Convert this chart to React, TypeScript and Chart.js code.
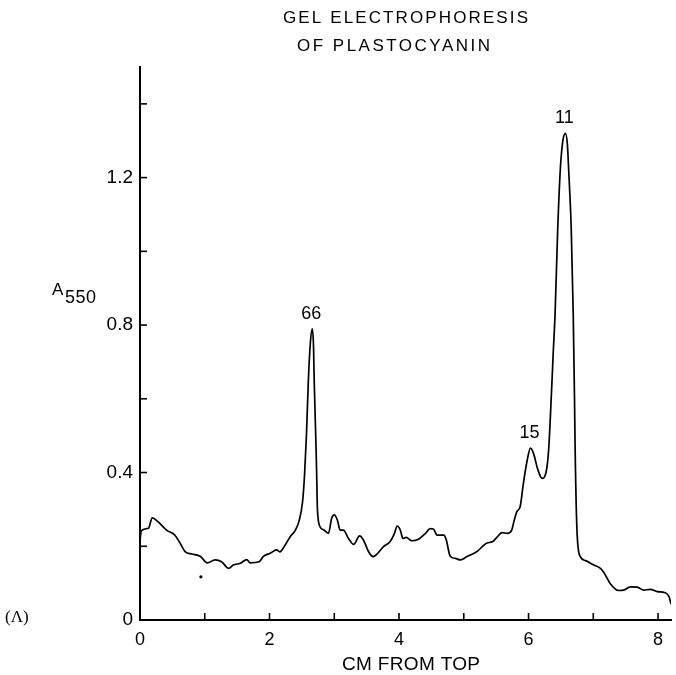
import React, { useEffect, useRef } from "react";
import { Chart, registerables } from "chart.js";

Chart.register(...registerables);

// distance from top of gel (cm)
const positionsCm = [
  0, 0.02, 0.13, 0.19, 0.28, 0.41, 0.54, 0.62, 0.7, 0.8, 0.93, 1.04, 1.16, 1.26, 1.37, 1.44, 1.55,
  1.65, 1.7, 1.84, 1.91, 2.01, 2.11, 2.16, 2.24, 2.32, 2.4, 2.46, 2.51, 2.54, 2.57, 2.6, 2.63, 2.66,
  2.68, 2.69, 2.72, 2.73, 2.74, 2.78, 2.84, 2.91, 2.96, 3.0, 3.05, 3.09, 3.14, 3.22, 3.3, 3.39, 3.45,
  3.53, 3.6, 3.66, 3.76, 3.86, 3.93, 3.97, 4.02, 4.06, 4.11, 4.2, 4.3, 4.41, 4.48, 4.53, 4.59, 4.69,
  4.73, 4.79, 4.87, 4.95, 5.05, 5.2, 5.31, 5.36, 5.44, 5.51, 5.59, 5.67, 5.74, 5.78, 5.82, 5.87, 5.92,
  5.98, 6.03, 6.08, 6.14, 6.21, 6.27, 6.31, 6.35, 6.38, 6.41, 6.45, 6.49, 6.53, 6.57, 6.6, 6.62, 6.66,
  6.69, 6.71, 6.72, 6.75, 6.8, 6.88, 7.01, 7.11, 7.17, 7.26, 7.39, 7.47, 7.57, 7.68, 7.78, 7.88, 7.99,
  8.11, 8.17, 8.2,
];

// absorbance at 550 nm
const absorbance = [
  0.215, 0.242, 0.249, 0.277, 0.266, 0.244, 0.23, 0.208, 0.185, 0.179, 0.173, 0.155, 0.163, 0.158,
  0.14, 0.149, 0.154, 0.164, 0.155, 0.158, 0.173, 0.181, 0.19, 0.185, 0.203, 0.226, 0.244, 0.271,
  0.32, 0.39, 0.5, 0.65, 0.75, 0.79, 0.74, 0.65, 0.46, 0.38, 0.3, 0.253, 0.244, 0.235, 0.276, 0.285,
  0.27, 0.244, 0.244, 0.221, 0.205, 0.228, 0.217, 0.185, 0.172, 0.179, 0.199, 0.212, 0.235, 0.255,
  0.244, 0.221, 0.224, 0.215, 0.219, 0.235, 0.248, 0.247, 0.23, 0.23, 0.217, 0.173, 0.167, 0.163,
  0.172, 0.185, 0.203, 0.209, 0.212, 0.224, 0.237, 0.235, 0.244, 0.271, 0.294, 0.307, 0.37, 0.434,
  0.466, 0.45, 0.41, 0.384, 0.4, 0.46, 0.6, 0.72, 0.831, 1.057, 1.22, 1.3, 1.32, 1.29, 1.22, 1.057,
  0.831, 0.6, 0.46, 0.235, 0.172, 0.161, 0.149, 0.14, 0.127, 0.099, 0.08, 0.081, 0.09, 0.089, 0.081,
  0.083, 0.077, 0.074, 0.063, 0.043,
];

// band labels (molecular weight annotations)
const bandPositions = [2.66, 6.03, 6.57];
const bandPeaks = [0.79, 0.466, 1.32];
const bandLabels = ["66", "15", "11"];

// stray speck on the original figure
const speckX = [0.94];
const speckY = [0.117];

const xLabeledTicks = [0, 2, 4, 6, 8];
const yLabeledTicks = ["0", "0.4", "0.8", "1.2"];

const titleLines = ["GEL ELECTROPHORESIS", "OF PLASTOCYANIN"];
const xTitle = "CM FROM TOP";
const yTitleMain = "A";
const yTitleSub = "550";
const panelLabel = "(\u039B)";

const FONT = '"Liberation Sans", Arial, sans-serif';

function drawSpaced(ctx: CanvasRenderingContext2D, text: string, cx: number, cy: number, font: string, width: number) {
  ctx.save();
  ctx.font = font;
  (ctx as any).letterSpacing = "0px";
  const w = ctx.measureText(text).width;
  const sp = text.length > 1 ? (width - w) / (text.length - 1) : 0;
  (ctx as any).letterSpacing = sp + "px";
  ctx.textAlign = "left";
  ctx.textBaseline = "middle";
  ctx.fillText(text, cx - width / 2, cy);
  ctx.restore();
}

const decorPlugin = {
  id: "decor",
  afterDatasetsDraw(chart: any) {
    const ctx: CanvasRenderingContext2D = chart.ctx;
    const xs = chart.scales.x;
    const ys = chart.scales.y;
    const area = chart.chartArea;
    ctx.save();
    ctx.strokeStyle = "#000";
    ctx.lineWidth = 1.6;
    // inward ticks
    xs.ticks.forEach((t: any) => {
      const px = xs.getPixelForValue(t.value);
      ctx.beginPath();
      ctx.moveTo(px, area.bottom);
      ctx.lineTo(px, area.bottom - 7);
      ctx.stroke();
    });
    ys.ticks.forEach((t: any) => {
      const py = ys.getPixelForValue(t.value);
      ctx.beginPath();
      ctx.moveTo(area.left, py);
      ctx.lineTo(area.left + 7, py);
      ctx.stroke();
    });
    ctx.fillStyle = "#000";
    // band labels
    ctx.font = "18px " + FONT;
    ctx.textAlign = "center";
    ctx.textBaseline = "middle";
    bandLabels.forEach((lab, i) => {
      const px = xs.getPixelForValue(bandPositions[i]);
      const py = ys.getPixelForValue(bandPeaks[i]);
      ctx.fillText(lab, px - 1, py - 15);
    });
    // title
    drawSpaced(ctx, titleLines[0], 405.5, 18, "17px " + FONT, 245);
    drawSpaced(ctx, titleLines[1], 393.5, 46, "17px " + FONT, 193);
    // x title
    drawSpaced(ctx, xTitle, 411, 665, "19px " + FONT, 138);
    // y title
    ctx.textAlign = "left";
    ctx.textBaseline = "alphabetic";
    ctx.font = "17px " + FONT;
    ctx.fillText(yTitleMain, 52, 295);
    ctx.font = "18px " + FONT;
    (ctx as any).letterSpacing = "0.5px";
    ctx.fillText(yTitleSub, 65, 303);
    (ctx as any).letterSpacing = "0px";
    // panel label
    ctx.font = '17px "Liberation Serif", "Times New Roman", serif';
    ctx.fillText(panelLabel, 5, 622);
    ctx.restore();
  },
};

export default function App() {
  const ref = useRef<HTMLCanvasElement | null>(null);
  useEffect(() => {
    if (!ref.current) return;
    const chart = new Chart(ref.current, {
      type: "line",
      data: {
        datasets: [
          {
            data: positionsCm.map((x, i) => ({ x, y: absorbance[i] })),
            borderColor: "#000",
            borderWidth: 1.7,
            pointRadius: 0,
            fill: false,
            cubicInterpolationMode: "monotone",
          },
          {
            type: "scatter",
            data: speckX.map((x, i) => ({ x, y: speckY[i] })),
            pointRadius: 1.6,
            pointBackgroundColor: "#000",
            pointBorderWidth: 0,
            showLine: false,
          } as any,
        ],
      },
      options: {
        animation: false,
        responsive: false,
        maintainAspectRatio: false,
        layout: { padding: { top: 67, right: 5, left: 0, bottom: 0 } },
        plugins: { legend: { display: false }, tooltip: { enabled: false }, title: { display: false } },
        scales: {
          x: {
            type: "linear",
            min: 0,
            max: 8.2,
            afterFit: (s: any) => {
              s.height = 55;
            },
            border: { display: true, color: "#000", width: 2 },
            grid: { display: true, drawOnChartArea: false, drawTicks: false },
            ticks: {
              stepSize: 1,
              includeBounds: false,
              autoSkip: false,
              maxRotation: 0,
              padding: 9,
              color: "#000",
              font: { family: FONT, size: 18 },
              callback: (v: any) => {
                const n = Math.round(Number(v));
                return xLabeledTicks.includes(n) ? String(n) : "";
              },
            },
          },
          y: {
            type: "linear",
            min: 0,
            max: 1.5,
            afterFit: (s: any) => {
              s.width = 140;
            },
            border: { display: true, color: "#000", width: 2 },
            grid: { display: true, drawOnChartArea: false, drawTicks: false },
            ticks: {
              stepSize: 0.2,
              includeBounds: false,
              autoSkip: false,
              padding: 7,
              color: "#000",
              font: { family: FONT, size: 19 },
              callback: (v: any) => {
                const s = Number(v) === 0 ? "0" : Number(v).toFixed(1);
                return yLabeledTicks.includes(s) ? s : "";
              },
            },
          },
        },
      },
      plugins: [decorPlugin],
    });
    return () => chart.destroy();
  }, []);
  return (
    <div style={{ position: "fixed", left: 0, top: 0, width: 676, height: 675, background: "#fff" }}>
      <canvas ref={ref} width={676} height={675} style={{ width: 676, height: 675 }} />
    </div>
  );
}
